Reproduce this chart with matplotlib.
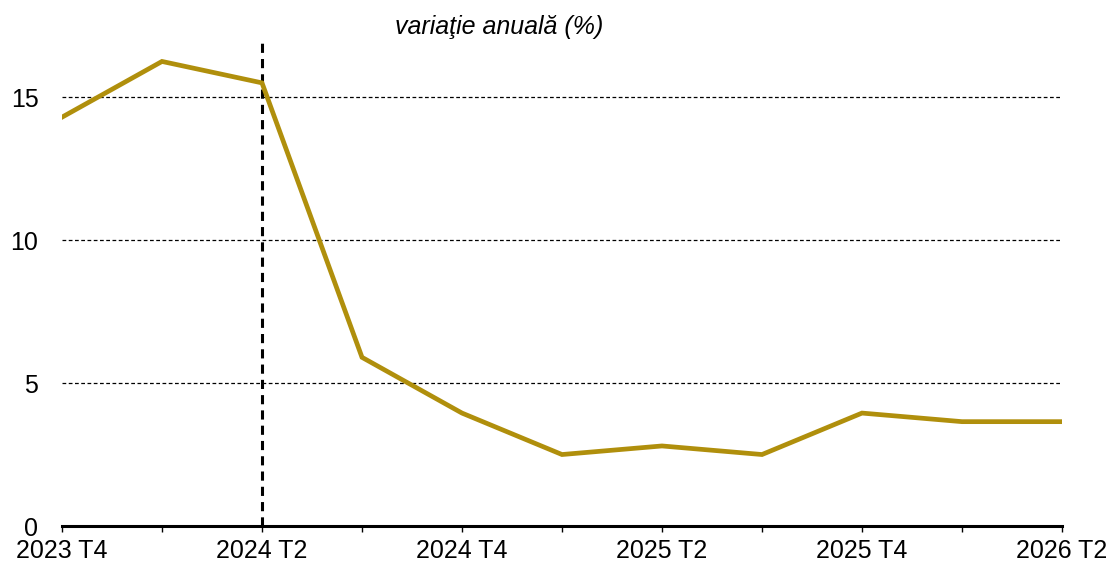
import numpy as np
import matplotlib.pyplot as plt

plt.rcParams['font.family'] = ['Liberation Sans', 'DejaVu Sans']

# quarters and annual change (%)
quarters = ['2023 T4', '2024 T1', '2024 T2', '2024 T3', '2024 T4', '2025 T1',
            '2025 T2', '2025 T3', '2025 T4', '2026 T1', '2026 T2']
values = [14.3, 16.25, 15.5, 5.9, 3.95, 2.5, 2.8, 2.5, 3.95, 3.65, 3.65]
yticks = [0, 5, 10, 15]
split_at = '2024 T2'

x = np.arange(len(quarters))

fig = plt.figure(figsize=(11.06, 5.65), dpi=100)
ax = fig.add_axes([62 / 1106, 39 / 565, 1000 / 1106, 486 / 565])

# horizontal dashed grid lines
for v in yticks[1:]:
    ax.axhline(v, color='black', lw=0.9, ls=(0, (3, 2)), zorder=1)

# vertical marker between data and forecast
ax.axvline(quarters.index(split_at), color='black', lw=2.2, ls=(0, (3, 2)), zorder=2)

ax.plot(x, values, color='#B08F0C', lw=3.4, solid_joinstyle='miter', zorder=3)

ax.set_xlim(0, len(quarters) - 1)
ax.set_ylim(0, 17)
ax.set_xticks(x)
ax.set_xticklabels([q if i % 2 == 0 else '' for i, q in enumerate(quarters)], fontsize=18)
ax.set_yticks(yticks)
ax.set_yticklabels([str(v) for v in yticks], fontsize=18)
ax.tick_params(axis='y', length=0, pad=17)
ax.tick_params(axis='x', length=4, width=1, direction='out', pad=5, color='black')

for s in ['top', 'right', 'left']:
    ax.spines[s].set_visible(False)
ax.spines['bottom'].set_linewidth(2.2)

fig.text(499 / 1106, 1 - 27 / 565, 'variaţie anuală (%)', fontsize=18, style='italic',
         ha='center', va='center')

fig.savefig('out.png', dpi=100)
